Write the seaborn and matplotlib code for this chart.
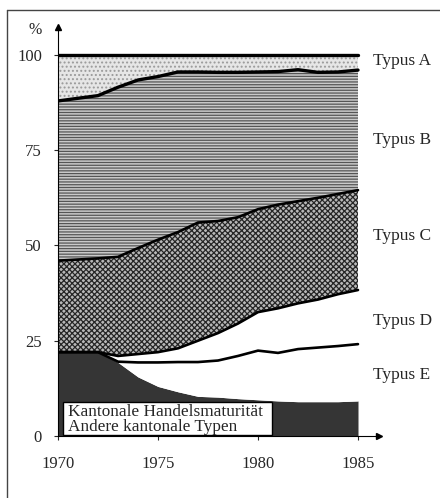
import numpy as np
import pandas as pd
import matplotlib
matplotlib.use("Agg")
import matplotlib.pyplot as plt
from matplotlib.patches import Rectangle
from matplotlib.lines import Line2D
import seaborn as sns

# Jahre und kumulierte Obergrenzen der Schichten (in %)
years = np.arange(1970, 1986)
top_a = [100.0] * 16
top_b = [87.9, 88.6, 89.3, 91.5, 93.4, 94.3, 95.5, 95.5, 95.4, 95.4, 95.5, 95.6, 96.1, 95.4, 95.5, 96.0]
top_c = [46.0, 46.3, 46.6, 47.0, 49.3, 51.5, 53.5, 56.0, 56.4, 57.4, 59.5, 60.7, 61.6, 62.5, 63.5, 64.5]
top_d = [22.0, 22.0, 22.0, 21.0, 21.5, 22.0, 23.0, 25.0, 27.0, 29.5, 32.5, 33.5, 34.8, 35.8, 37.2, 38.3]
top_e = [22.0, 22.0, 22.0, 19.5, 19.3, 19.3, 19.4, 19.4, 19.8, 21.0, 22.4, 21.8, 22.8, 23.2, 23.6, 24.1]
top_kant = [22.1, 22.1, 22.0, 19.3, 15.5, 13.0, 11.6, 10.4, 10.2, 9.8, 9.5, 9.2, 9.0, 9.0, 9.0, 9.2]

type_labels = ["Typus A", "Typus B", "Typus C", "Typus D", "Typus E"]
type_label_y = [98.4, 77.7, 52.5, 30.2, 16.0]
box_lines = ["Kantonale Handelsmaturität", "Andere kantonale Typen"]
y_ticks = [0, 25, 50, 75, 100]
x_ticks = [1970, 1975, 1980, 1985]

df = pd.DataFrame({"Jahr": years, "A": top_a, "B": top_b, "C": top_c,
                   "D": top_d, "E": top_e, "K": top_kant})

sns.set_style("white")
plt.rcParams["font.family"] = ["Liberation Serif", "DejaVu Serif"]
plt.rcParams["hatch.linewidth"] = 0.9

fig = plt.figure(figsize=(4.4, 4.98), dpi=100)
ax = fig.add_axes([58 / 440, 62 / 498, 321 / 440, 409 / 498])

# Flächen von unten nach oben
ax.fill_between(df["Jahr"], 0, df["K"], facecolor="#353535", linewidth=0)
ax.fill_between(df["Jahr"], df["K"], df["E"], facecolor="white", linewidth=0)
ax.fill_between(df["Jahr"], df["E"], df["D"], facecolor="white", linewidth=0)
ax.fill_between(df["Jahr"], df["D"], df["C"], facecolor="#b8b8b8", edgecolor="#262626",
                hatch="xxxxxx", linewidth=0)
ax.fill_between(df["Jahr"], df["C"], df["B"], facecolor="#cacaca", edgecolor="#555555",
                hatch="------", linewidth=0)
ax.fill_between(df["Jahr"], df["B"], df["A"], facecolor="#e6e6e6", edgecolor="#9a9a9a",
                hatch="....", linewidth=0)

# Grenzlinien
for col, lw in [("A", 2.4), ("B", 2.4), ("C", 1.9), ("D", 1.9), ("E", 1.9)]:
    sns.lineplot(data=df, x="Jahr", y=col, ax=ax, color="black", linewidth=lw)

# Legendenkasten
ax.add_patch(Rectangle((1970.25, 0.3), 10.45, 8.5, facecolor="white",
                       edgecolor="black", linewidth=1.0, zorder=5))
ax.text(1970.5, 6.4, box_lines[0], fontsize=12.4, va="center", ha="left", zorder=6)
ax.text(1970.5, 2.3, box_lines[1], fontsize=12.4, va="center", ha="left", zorder=6)

for lab, yy in zip(type_labels, type_label_y):
    ax.text(1985.75, yy, lab, fontsize=12.5, va="center", ha="left", clip_on=False)

ax.set_xlim(1970, 1986.05)
ax.set_ylim(0, 107.3)
ax.set_xticks(x_ticks)
ax.set_yticks(y_ticks)
ax.set_xticklabels([str(t) for t in x_ticks], fontsize=12)
ax.set_yticklabels([str(t) for t in y_ticks], fontsize=12)
ax.set_xlabel("")
ax.set_ylabel("")
ax.tick_params(axis="x", direction="out", length=3, width=0.8, pad=11.5, bottom=True)
ax.tick_params(axis="y", direction="out", length=3, width=0.8, pad=8.5, left=True)

for side in ["top", "right"]:
    ax.spines[side].set_visible(False)
for side in ["left", "bottom"]:
    ax.spines[side].set_color("black")
    ax.spines[side].set_linewidth(0.8)

# Pfeilspitzen
ax.plot(0, 1, marker="^", color="black", markersize=5, transform=ax.transAxes, clip_on=False)
ax.plot(1, 0, marker=">", color="black", markersize=5, transform=ax.transAxes, clip_on=False)

fig.text(35 / 440, 1 - 30 / 498, "%", fontsize=11.5, ha="center", va="center")

# Rahmen (links und oben)
fig.add_artist(Line2D([7 / 440, 7 / 440], [0, 1 - 10 / 498], color="#444444", linewidth=1.0))
fig.add_artist(Line2D([7 / 440, 1], [1 - 10 / 498, 1 - 10 / 498], color="#444444", linewidth=1.0))

fig.savefig("out.png", dpi=100)
